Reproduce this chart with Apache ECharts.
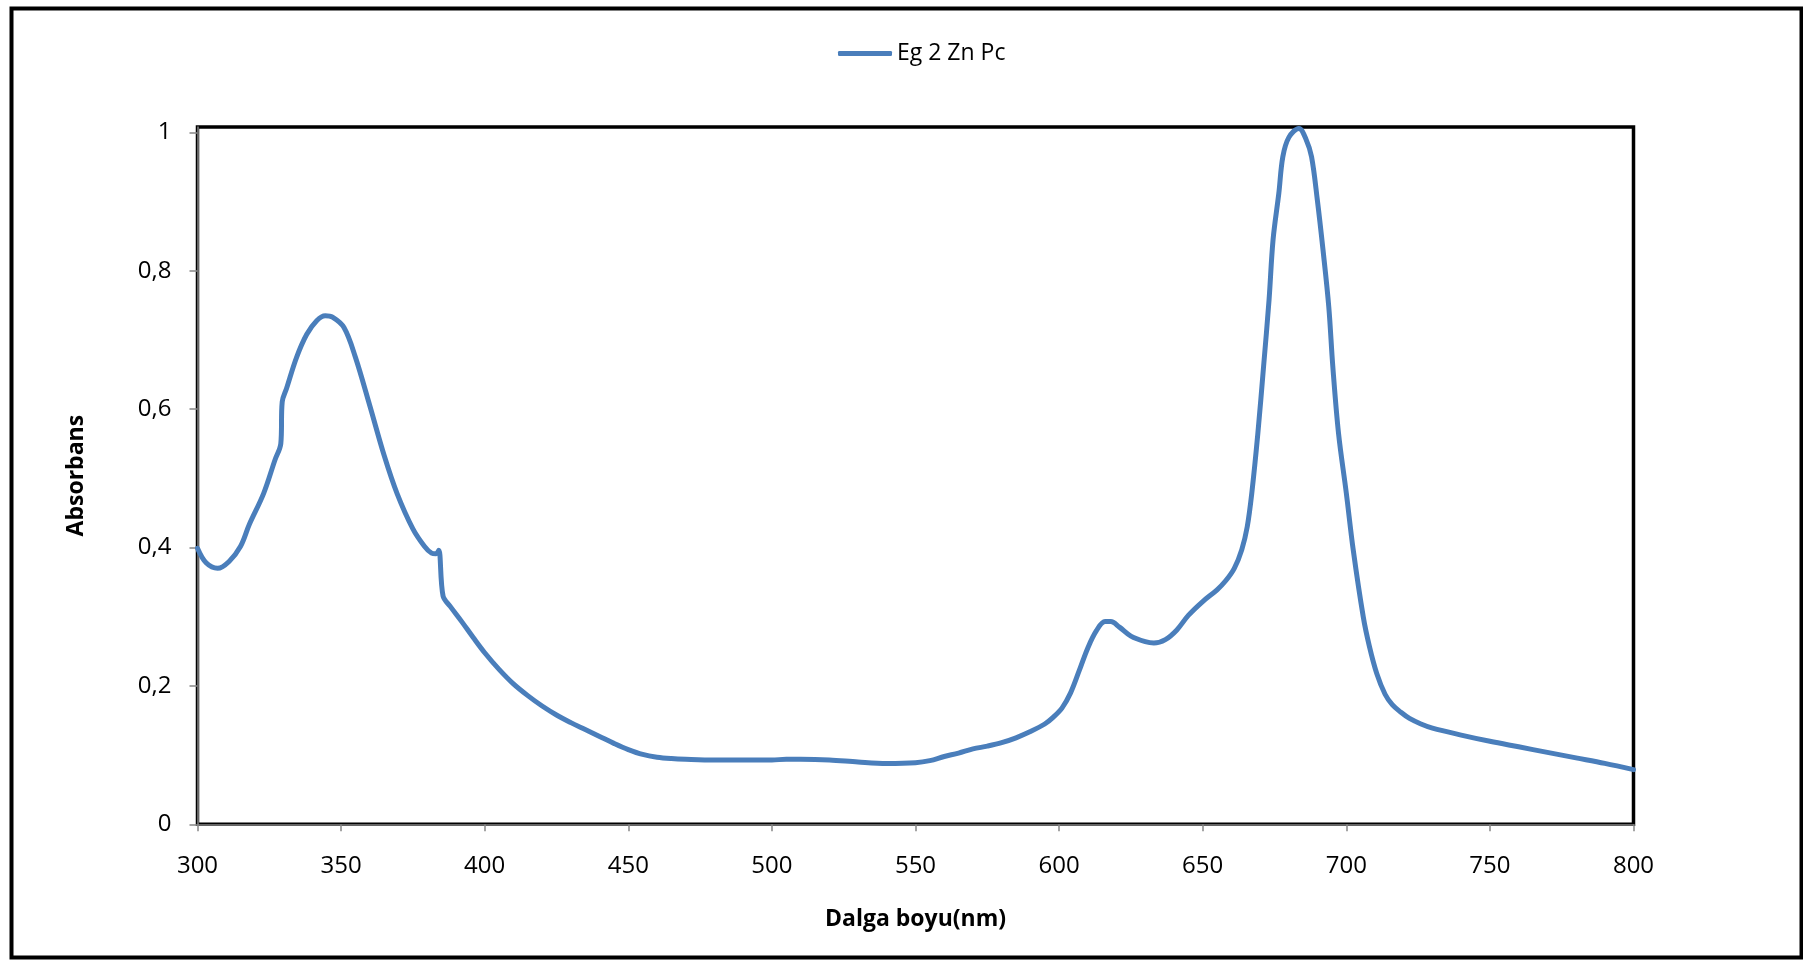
<!DOCTYPE html>
<html>
<head>
<meta charset="utf-8">
<title>Eg 2 Zn Pc</title>
<script src="https://cdn.jsdelivr.net/npm/echarts@6/dist/echarts.min.js"></script>
<style>
  html, body { margin: 0; padding: 0; background: #ffffff; }
  #chart { width: 1803px; height: 960px; }
</style>
</head>
<body>
<div id="chart"></div>
<script>
// UV-Vis absorption spectrum of Eg 2 Zn Pc
const seriesName = 'Eg 2 Zn Pc';
const xTitle = 'Dalga boyu(nm)';
const yTitle = 'Absorbans';

// wavelength (nm)
const wavelength = [
  300, 303, 307, 311, 315, 318, 323, 327, 329, 329.5,
  331, 334.5, 338, 341.5, 344.5, 347, 351, 355, 360, 365,
  369.5, 375, 379, 381.5, 383, 384, 385.5, 388, 392, 396,
  400, 405, 410, 415, 420, 425, 430, 435, 440, 445,
  450, 455, 460, 465, 470, 480, 490, 500, 505, 510,
  520, 530, 540, 550, 555, 560, 565, 570, 575, 580,
  585, 590, 595, 598, 601, 604, 607, 610, 613, 616,
  618, 621, 625, 630, 633, 637, 641, 645, 650, 655,
  658, 661, 663.6, 665.5, 667.1, 669.2, 671.2, 673.1, 674.5, 676.5,
  677.9, 680, 683.5, 686, 687.9, 689.9, 691.9, 693.9, 695.3, 697.3,
  700, 702.4, 705.9, 708, 710.6, 713.5, 716, 719, 722, 726,
  730, 740, 750, 760, 770, 780, 790, 800
];

// absorbance
const absorbance = [
  0.399, 0.378, 0.370, 0.380, 0.402, 0.433, 0.478, 0.527, 0.550, 0.611,
  0.630, 0.675, 0.708, 0.728, 0.735, 0.733, 0.718, 0.675, 0.605, 0.533,
  0.478, 0.427, 0.402, 0.392, 0.391, 0.396, 0.330, 0.315, 0.293, 0.270,
  0.248, 0.224, 0.203, 0.186, 0.171, 0.158, 0.147, 0.137, 0.127, 0.117,
  0.108, 0.101, 0.097, 0.095, 0.094, 0.093, 0.093, 0.093, 0.094, 0.094,
  0.093, 0.090, 0.088, 0.089, 0.092, 0.098, 0.103, 0.109, 0.113, 0.118,
  0.125, 0.134, 0.145, 0.155, 0.168, 0.190, 0.222, 0.255, 0.280, 0.293,
  0.293, 0.285, 0.272, 0.264, 0.262, 0.267, 0.281, 0.302, 0.322, 0.339,
  0.352, 0.370, 0.397, 0.430, 0.479, 0.565, 0.662, 0.758, 0.845, 0.912,
  0.965, 0.993, 1.006, 0.990, 0.965, 0.903, 0.830, 0.748, 0.662, 0.565,
  0.479, 0.397, 0.300, 0.258, 0.218, 0.188, 0.173, 0.162, 0.153, 0.145,
  0.139, 0.129, 0.120, 0.112, 0.104, 0.096, 0.088, 0.079
];

// axis tick settings
const xTicks = { min: 300, max: 800, interval: 50 };
const yTicks = { min: 0, top: 1.008, interval: 0.2 };

const points = wavelength.map((w, i) => [w, absorbance[i]]);

const font = '"Open Sans", "Noto Sans", sans-serif';
const lineBlue = '#4a7ebb';
const axisGray = '#868686';

const chart = echarts.init(document.getElementById('chart'), null, { renderer: 'canvas' });

chart.setOption({
  backgroundColor: '#ffffff',
  animation: false,
  graphic: [{
    type: 'rect',
    left: 9,
    top: 6,
    shape: { width: 1790, height: 949 },
    style: { fill: 'none', stroke: '#000000', lineWidth: 4 },
    silent: true,
    z: 100
  }],
  legend: {
    data: [seriesName],
    left: 833,
    top: 37,
    itemWidth: 54,
    itemHeight: 5,
    itemGap: 5,
    icon: 'roundRect',
    itemStyle: { color: lineBlue },
    textStyle: { fontFamily: font, fontSize: 23, color: '#000000', padding: [0, 0, 0, 0] }
  },
  grid: {
    left: 197.5,
    right: 169.5,
    top: 127,
    bottom: 135.7,
    show: true,
    borderColor: '#000000',
    borderWidth: 3.5,
    containLabel: false
  },
  xAxis: {
    type: 'value',
    min: xTicks.min,
    max: xTicks.max,
    interval: xTicks.interval,
    name: xTitle,
    nameLocation: 'middle',
    nameGap: 84,
    nameTextStyle: { fontFamily: font, fontSize: 23, fontWeight: 'bold', color: '#000000' },
    axisLine: { show: true, onZero: false, lineStyle: { color: axisGray, width: 1.5 } },
    axisTick: { show: true, inside: false, length: 7, lineStyle: { color: axisGray, width: 1.5 } },
    axisLabel: { fontFamily: font, fontSize: 24, color: '#000000', margin: 30 },
    splitLine: { show: false }
  },
  yAxis: {
    type: 'value',
    min: yTicks.min,
    max: yTicks.top,
    interval: yTicks.interval,
    name: yTitle,
    nameLocation: 'middle',
    nameGap: 110,
    nameRotate: 90,
    nameTextStyle: { fontFamily: font, fontSize: 23, fontWeight: 'bold', color: '#000000' },
    axisLine: { show: true, onZero: false, lineStyle: { color: axisGray, width: 1.5 } },
    axisTick: { show: true, inside: false, length: 8, lineStyle: { color: axisGray, width: 1.5 } },
    axisLabel: {
      fontFamily: font,
      fontSize: 24,
      color: '#000000',
      margin: 26,
      showMaxLabel: false,
      formatter: v => {
        const r = Math.round(v * 10) / 10;
        if (Math.abs(r - v) > 1e-6) return '';
        return String(r).replace('.', ',');
      }
    },
    splitLine: { show: false }
  },
  series: [{
    name: seriesName,
    type: 'line',
    data: points,
    symbol: 'none',
    smooth: 0.35,
    lineStyle: { color: lineBlue, width: 5, cap: 'round', join: 'round' },
    itemStyle: { color: lineBlue },
    z: 5
  }]
});
</script>
</body>
</html>
